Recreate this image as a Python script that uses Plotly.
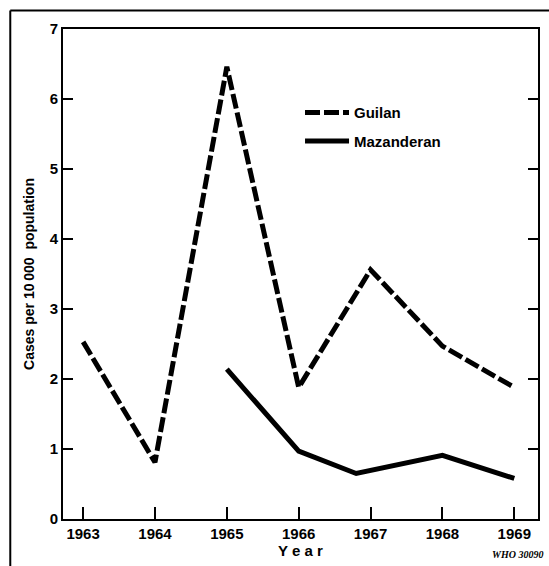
import plotly.graph_objects as go

# Data
guilan_years = [1963, 1964, 1965, 1966, 1967, 1968, 1969]
guilan_cases = [2.53, 0.81, 6.46, 1.88, 3.56, 2.47, 1.88]

mazanderan_years = [1965, 1966, 1966.8, 1968, 1969]
mazanderan_cases = [2.14, 0.97, 0.65, 0.91, 0.58]

x_ticks = [1963, 1964, 1965, 1966, 1967, 1968, 1969]
y_ticks = [0, 1, 2, 3, 4, 5, 6, 7]

FONT = "Liberation Sans Narrow, Arial Narrow, Liberation Sans, Arial, sans-serif"

fig = go.Figure()
fig.add_trace(go.Scatter(
    x=guilan_years, y=guilan_cases, mode="lines", name="Guilan",
    line=dict(color="black", width=5, dash="15px,4px"),
    legendgroup="g",
))
fig.add_trace(go.Scatter(
    x=mazanderan_years, y=mazanderan_cases, mode="lines", name="Mazanderan",
    line=dict(color="black", width=5),
    legendgroup="m",
))

fig.update_layout(
    width=549, height=566,
    margin=dict(l=63, r=9, t=29, b=42),
    paper_bgcolor="white", plot_bgcolor="white",
    font=dict(family=FONT, color="black", size=15),
    showlegend=True,
    legend=dict(
        x=0.499, y=0.863, xanchor="left", yanchor="top",
        bgcolor="rgba(0,0,0,0)", borderwidth=0, itemwidth=44,
        font=dict(family=FONT, size=15, color="black", weight="bold"),
        tracegroupgap=6,
    ),
    xaxis=dict(
        range=[1962.72, 1969.33],
        tickmode="array", tickvals=x_ticks, ticktext=[str(t) for t in x_ticks],
        ticks="inside", ticklen=12, tickwidth=2, tickcolor="black",
        showline=True, linecolor="black", linewidth=2, mirror=True,
        showgrid=False, zeroline=False,
        tickfont=dict(family=FONT, size=15, color="black", weight="bold"),
        title=dict(text="Y e a r", font=dict(family=FONT, size=15, color="black", weight="bold"), standoff=4),
    ),
    yaxis=dict(
        range=[0, 7],
        tickmode="array", tickvals=y_ticks, ticktext=[str(t) for t in y_ticks],
        ticks="inside", ticklen=10, tickwidth=2, tickcolor="black",
        showline=True, linecolor="black", linewidth=2, mirror="ticks",
        showgrid=False, zeroline=False,
        tickfont=dict(family=FONT, size=15, color="black", weight="bold"),
        title=dict(text="Cases per 10\u2009000  population", font=dict(family=FONT, size=14, color="black", weight="bold"), standoff=12),
    ),
    shapes=[
        dict(type="line", xref="paper", yref="paper", x0=-0.111, x1=1.2, y0=1.038, y1=1.038,
             line=dict(color="black", width=2)),
        dict(type="line", xref="paper", yref="paper", x0=-0.111, x1=-0.111, y0=-0.2, y1=1.038,
             line=dict(color="black", width=2)),
    ],
    annotations=[
        dict(text="<b><i>WHO 30090</i></b>", xref="paper", yref="paper", x=1.015, y=-0.072,
             xanchor="right", yanchor="middle", showarrow=False,
             font=dict(family="Liberation Serif, Times New Roman, serif", size=10, color="black")),
    ],
)

fig.write_html(
    "out.html",
    config={"displayModeBar": False},
    post_script="document.body.style.margin='0';document.body.style.overflow='hidden';",
)
